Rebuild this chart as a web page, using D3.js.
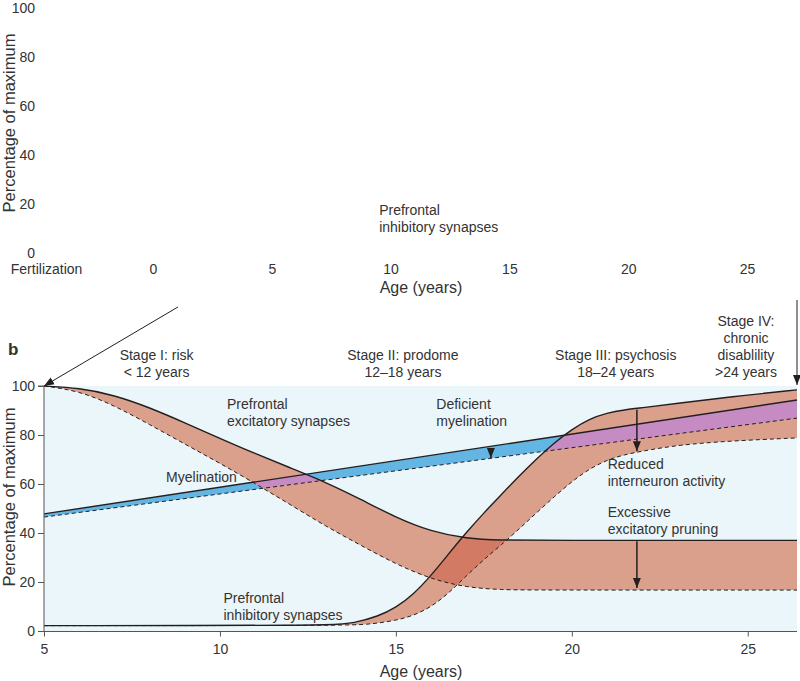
<!DOCTYPE html>
<html>
<head>
<meta charset="utf-8">
<script src="https://cdn.jsdelivr.net/npm/d3@7"></script>
<style>
  body { margin: 0; background: #fff; }
  text { font-family: "Liberation Sans", Arial, Helvetica, sans-serif; fill: #333; }
</style>
</head>
<body>
<div class="chart"></div>
<script>
// schizophrenia stages chart (panel a labels + panel b)

const width = 800
const height = 681

// panel a tick labels
const topYTicks = [0, 20, 40, 60, 80, 100]
const topXTicks = [-4.5, 0, 5, 10, 15, 20, 25]

// panel b ticks
const yTicks = [0, 20, 40, 60, 80, 100]
const xTicks = [5, 10, 15, 20, 25]

// [age, percentage]
const excSolid = [[5,100],[6,99.2],[7,96.3],[8,91.2],[9,85],[10,78.6],[11,72.4],[12,66.6],[13,60.8],[14,53.8],[15,46.3],[16,40.6],[17,37.7],[18,37.05],[19,37],[26.4,37]]
const excDashed = [[5,100],[6,98],[7,92],[8,84.3],[9,76.3],[10,68.5],[11,60.2],[12,51.6],[13,42.8],[14,35],[15,27.3],[16,21.2],[17,17.8],[18,16.8],[19,16.7],[26.4,16.7]]
const inhSolid = [[5,2.2],[13.2,2.2],[13.8,3.2],[14.5,6],[15,9.5],[15.5,15],[16,22.6],[16.5,31.5],[17,40.2],[17.5,48.2],[18,55.7],[18.5,63.2],[19,70.3],[19.5,76.8],[20,82.3],[20.5,86.6],[21,89],[21.5,90.3],[22,91.1],[23,92.9],[24.5,95.6],[26.4,98.4]]
const inhDashed = [[5,2.2],[13.6,2.2],[14.3,2.8],[15,4.3],[15.5,6.3],[16,9.8],[16.5,15.4],[17,22.5],[17.5,29.2],[18,35.2],[18.5,41.6],[19,48.3],[19.5,54.8],[20,61],[20.5,66.2],[21,69.8],[21.5,72],[22,73.4],[23,75.9],[24.5,77.6],[26.4,78.8]]
const myeSolid = [[5,47.8],[26.4,94.3]]
const myeDashed = [[5,46.5],[26.4,86.9]]

// [age, from, to]
const arrows = [[17.7, 74.5, 70.6], [21.85, 90.3, 73.4], [21.85, 36.6, 17.6]]

const stages = [
  {age: 8.2, lines: ['Stage I: risk', '< 12 years']},
  {age: 15.2, lines: ['Stage II: prodome', '12–18 years']},
  {age: 21.25, lines: ['Stage III: psychosis', '18–24 years']},
  {age: 24.95, lines: ['Stage IV:', 'chronic', 'disablility', '>24 years']}
]

const labels = [
  {age: 10.2, val: 90.5, lines: ['Prefrontal', 'excitatory synapses']},
  {age: 8.47, val: 61, lines: ['Myelination']},
  {age: 16.15, val: 90.5, lines: ['Deficient', 'myelination']},
  {age: 21.02, val: 66.3, lines: ['Reduced', 'interneuron activity']},
  {age: 21.02, val: 46.7, lines: ['Excessive', 'excitatory pruning']},
  {age: 10.1, val: 11.5, lines: ['Prefrontal', 'inhibitory synapses']}
]

const svg = d3.select('.chart')
  .append('svg')
  .attr('width', width)
  .attr('height', height)
  .attr('viewBox', [0, 0, width, height])

svg.append('rect').attr('width', width).attr('height', height).attr('fill', '#fff')

// ---------- panel a (labels only) ----------
const topX = d3.scaleLinear().domain([0, 25]).range([153, 747])
const topY = d3.scaleLinear().domain([0, 100]).range([253, 8])

const topYAxis = svg.append('g')
  .attr('transform', 'translate(38,0)')
  .call(d3.axisLeft(topY).tickValues(topYTicks).tickSize(0).tickPadding(3))
topYAxis.select('.domain').remove()

const topXAxis = svg.append('g')
  .attr('transform', 'translate(0,261)')
  .call(d3.axisBottom(topX).tickValues(topXTicks).tickSize(0).tickPadding(3)
    .tickFormat(d => d < 0 ? 'Fertilization' : d))
topXAxis.select('.domain').remove()

svg.selectAll('.tick text').attr('font-size', 14).attr('fill', '#333')

svg.append('text')
  .attr('transform', 'translate(15,123) rotate(-90)')
  .attr('text-anchor', 'middle')
  .attr('font-size', 16.5)
  .text('Percentage of maximum')

svg.append('text')
  .attr('x', 421).attr('y', 293)
  .attr('text-anchor', 'middle')
  .attr('font-size', 16)
  .text('Age (years)')

svg.append('text')
  .attr('x', topX(9.52)).attr('y', 215)
  .attr('font-size', 14)
  .selectAll('tspan')
  .data(['Prefrontal', 'inhibitory synapses'])
  .join('tspan')
    .attr('x', topX(9.52))
    .attr('dy', (d, i) => i ? 17 : 0)
    .text(d => d)

// ---------- panel b ----------
const x = d3.scaleLinear().domain([5, 26.4]).range([44, 797])
const y = d3.scaleLinear().domain([0, 100]).range([631, 386])

const defs = svg.append('defs')
defs.append('marker')
  .attr('id', 'head')
  .attr('markerUnits', 'userSpaceOnUse')
  .attr('markerWidth', 10).attr('markerHeight', 12)
  .attr('viewBox', '0 -5 10 10')
  .attr('refX', 10).attr('refY', 0)
  .attr('orient', 'auto')
  .append('path')
    .attr('d', 'M0,-4L10,0L0,4Z')
    .attr('fill', '#231f20')

const line = d3.line()
  .x(d => x(d[0]))
  .y(d => y(d[1]))
  .curve(d3.curveBasis)

// band = solid line forward, dashed line back
const band = (top, bottom) => line(top) + line(bottom.slice().reverse()).replace(/^M/, 'L') + 'Z'

const excBand = band(excSolid, excDashed)
const inhBand = band(inhSolid, inhDashed)
const myeBand = band(myeSolid, myeDashed)

defs.append('clipPath').attr('id', 'clipExc').append('path').attr('d', excBand)
defs.append('clipPath').attr('id', 'clipInh').append('path').attr('d', inhBand)

svg.append('rect')
  .attr('x', x(5)).attr('y', y(100))
  .attr('width', x(26.4) - x(5)).attr('height', y(0) - y(100))
  .attr('fill', '#ebf6fa')

svg.append('path').attr('d', myeBand).attr('fill', '#63b5e3')
svg.append('path').attr('d', excBand).attr('fill', '#daa08b')
svg.append('path').attr('d', inhBand).attr('fill', '#daa08b')
svg.append('path').attr('d', inhBand).attr('fill', '#d27a63').attr('clip-path', 'url(#clipExc)')
svg.append('path').attr('d', myeBand).attr('fill', '#c68bc3').attr('clip-path', 'url(#clipExc)')
svg.append('path').attr('d', myeBand).attr('fill', '#c68bc3').attr('clip-path', 'url(#clipInh)')

const curves = [
  [myeSolid, false], [myeDashed, true],
  [excSolid, false], [excDashed, true],
  [inhSolid, false], [inhDashed, true]
]

svg.append('g')
  .selectAll('path')
  .data(curves)
  .join('path')
    .attr('d', d => line(d[0]))
    .attr('fill', 'none')
    .attr('stroke', '#231f20')
    .attr('stroke-width', d => d[1] ? 1 : 1.4)
    .attr('stroke-dasharray', d => d[1] ? '4,3' : null)

svg.append('g')
  .selectAll('line')
  .data(arrows)
  .join('line')
    .attr('x1', d => x(d[0])).attr('x2', d => x(d[0]))
    .attr('y1', d => y(d[1])).attr('y2', d => y(d[2]))
    .attr('stroke', '#231f20')
    .attr('stroke-width', 1.5)
    .attr('marker-end', 'url(#head)')

// axes
const yAxis = svg.append('g')
  .attr('transform', `translate(${x(5)},0)`)
  .call(d3.axisLeft(y).tickValues(yTicks).tickSize(6).tickPadding(3))
const xAxis = svg.append('g')
  .attr('transform', `translate(0,${y(0) + 0.5})`)
  .call(d3.axisBottom(x).tickValues(xTicks).tickSize(5).tickPadding(8))

svg.selectAll('.domain, .tick line').attr('stroke', '#555')
yAxis.selectAll('.domain').attr('d', `M-6,${y(100)}H0V${y(0)}`)
xAxis.selectAll('.domain').attr('d', `M${x(5)},0H${x(26.4)}`)
svg.selectAll('.tick text').attr('font-size', 14).attr('fill', '#333')

svg.append('text')
  .attr('transform', 'translate(15,497) rotate(-90)')
  .attr('text-anchor', 'middle')
  .attr('font-size', 16.5)
  .text('Percentage of maximum')

svg.append('text')
  .attr('x', 421).attr('y', 677)
  .attr('text-anchor', 'middle')
  .attr('font-size', 16)
  .text('Age (years)')

svg.append('text')
  .attr('x', 8).attr('y', 355)
  .attr('font-size', 17)
  .attr('font-weight', 'bold')
  .attr('fill', '#231f20')
  .text('b')

// stage headers, bottom line at y=377
stages.forEach(s => {
  const n = s.lines.length
  svg.append('text')
    .attr('text-anchor', 'middle')
    .attr('font-size', 14)
    .selectAll('tspan')
    .data(s.lines)
    .join('tspan')
      .attr('x', x(s.age))
      .attr('y', (d, i) => 377 - (n - 1 - i) * 17)
      .text(d => d)
})

labels.forEach(l => {
  svg.append('text')
    .attr('font-size', 14)
    .selectAll('tspan')
    .data(l.lines)
    .join('tspan')
      .attr('x', x(l.age))
      .attr('y', (d, i) => y(l.val) + i * 17)
      .text(d => d)
})

// arrows linking panel a to panel b
const links = [
  {x1: topX(1.05), y1: 307, x2: x(5), y2: y(100)},
  {x1: x(26.4), y1: 300, x2: x(26.4), y2: y(100) - 1}
]
svg.append('g')
  .selectAll('line')
  .data(links)
  .join('line')
    .attr('x1', d => d.x1).attr('y1', d => d.y1)
    .attr('x2', d => d.x2).attr('y2', d => d.y2)
    .attr('stroke', '#231f20')
    .attr('stroke-width', 1)
    .attr('marker-end', 'url(#head)')
</script>
</body>
</html>
